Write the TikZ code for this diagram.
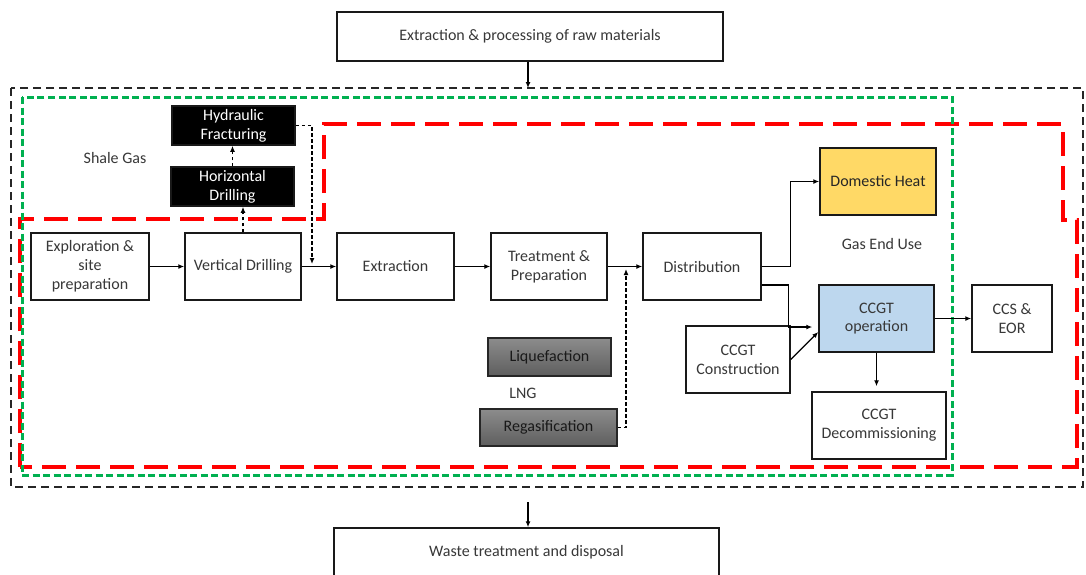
\documentclass[tikz,border=0pt]{standalone}
\usepackage{fontspec}
\setmainfont{Carlito}
\usetikzlibrary{arrows.meta}
\definecolor{txt}{HTML}{383838}
\definecolor{yel}{HTML}{FFD966}
\definecolor{blu}{HTML}{BDD7EE}
\definecolor{gtop}{HTML}{8C8C8C}
\definecolor{gbot}{HTML}{5E5E5E}
\definecolor{grn}{HTML}{00B050}
\tikzset{
  box/.style={draw=black!90, line width=1.5pt, inner sep=0pt, align=center, text=txt, font=\fontsize{16}{18.8}\selectfont},
  blackbox/.style={box, fill=black, text=white},
  graybox/.style={box, draw=black!85, top color=gtop, bottom color=gbot, text=black!90},
  lbl/.style={inner sep=0pt, text=txt, font=\fontsize{16}{18.8}\selectfont},
  arr/.style={line width=1.3pt, -{Latex[length=6pt,width=5pt]}},
  darr/.style={line width=1.2pt, dash pattern=on 3.5pt off 2.5pt, -{Latex[length=6pt,width=5pt]}},
}
\begin{document}
\begin{tikzpicture}[x=1pt,y=-1pt]
\clip (0,0) rectangle (1086,574);
\fill[white] (0,0) rectangle (1086,574);
% boundaries
\draw[black!85, line width=1.3pt, dash pattern=on 8pt off 5pt] (11,88) rectangle (1083,487);
\draw[red, line width=3.5pt, dash pattern=on 24pt off 10pt]
  (20,467) -- (20,219) -- (324,219) -- (324,124) -- (1063,124) -- (1063,220) -- (1077,220) -- (1077,467) -- cycle;
\draw[grn, line width=3pt, dash pattern=on 7pt off 3.5pt] (22,97) rectangle (952,475);
\coordinate (otop) at (528,88);
\coordinate (obot) at (528,502);
% nodes
\node[box, minimum width=386, minimum height=49] (top) at (530,36.5) {Extraction \& processing of raw materials};
\node[box, minimum width=385, minimum height=48] (waste) at (526.5,552) {Waste treatment and disposal};
\node[box, minimum width=118, minimum height=67] (expl) at (90,266.5) {Exploration \&\\site\\preparation};
\node[box, minimum width=116, minimum height=67] (vd) at (243,266.5) {Vertical Drilling};
\node[box, minimum width=117, minimum height=67] (extr) at (395.5,266.5) {Extraction};
\node[box, minimum width=116, minimum height=67] (treat) at (549,266.5) {Treatment \&\\Preparation};
\node[box, minimum width=118, minimum height=67] (dist) at (702,266.5) {Distribution};
\node[blackbox, minimum width=123, minimum height=39] (hf) at (233.5,125.5) {Hydraulic\\Fracturing};
\node[blackbox, minimum width=123, minimum height=39] (hd) at (232.5,186.5) {Horizontal\\Drilling};
\node[box, fill=yel, text=black!85, minimum width=116, minimum height=67] (dh) at (878,181.5) {Domestic Heat};
\node[box, fill=blu, minimum width=115, minimum height=67] (ccgt) at (876.5,318.5) {CCGT\\operation};
\node[box, minimum width=80, minimum height=67] (ccs) at (1012,318.5) {CCS \&\\EOR};
\node[box, minimum width=104, minimum height=67] (cons) at (738,359.5) {CCGT\\Construction};
\node[box, minimum width=134, minimum height=67] (decom) at (879,425.5) {CCGT\\Decommissioning};
\node[graybox, minimum width=123, minimum height=38] (liq) at (549.5,357) {Liquefaction};
\node[graybox, minimum width=137, minimum height=37] (regas) at (548.5,427.5) {Regasification};
\node[lbl] (shale) at (115,158) {Shale Gas};
\node[lbl] (geu) at (882,244) {Gas End Use};
\node[lbl] (lng) at (523,393) {LNG};
\coordinate (hfc) at (312,264);
\coordinate (lngin) at (626,269);
% connectors
\draw[arr] (top.south -| otop) -- (otop);
\draw[arr] (obot) -- (obot |- waste.north);
\draw[arr] (expl.east) -- (vd.west);
\draw[arr] (vd.east) -- (extr.west);
\draw[arr] (extr.east) -- (treat.west);
\draw[arr] (treat.east) -- (dist.west);
\draw[darr] (vd.north) -- (vd.north |- hd.south);
\draw[darr] (hd.north) -- (hd.north |- hf.south);
\draw[darr] (hf.east) -| (hfc);
\draw[darr] (regas.east) -| (lngin);
\draw[arr] (dist.east) -- ++(29,0) |- (dh.west);
\draw[arr, shorten >=6pt] ([yshift=-18.5]dist.east) -- ++(27,0) |- ([yshift=-8.5]ccgt.west);
\draw[arr] (cons.east) -- ([yshift=-13.5]ccgt.west);
\draw[arr] (ccgt.east) -- (ccs.west);
\draw[arr, shorten >=5pt] (ccgt.south) -- (ccgt.south |- decom.north);
\end{tikzpicture}
\end{document}
